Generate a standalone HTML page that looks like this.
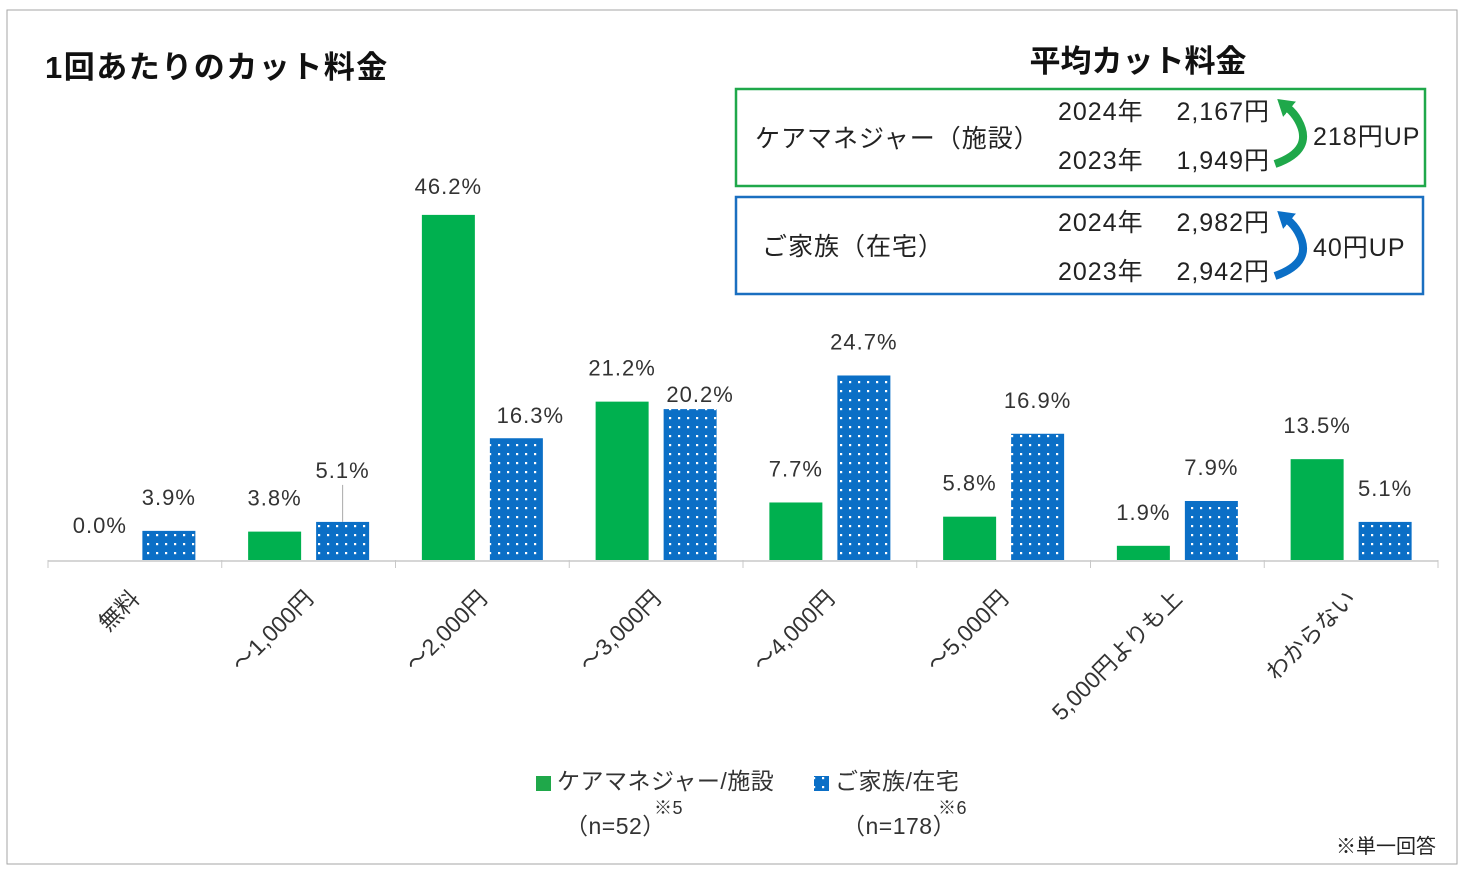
<!DOCTYPE html>
<html><head><meta charset="utf-8"><style>
body{margin:0;background:#fff;font-family:"Liberation Sans","Noto Sans CJK JP",sans-serif}
svg text{font-family:"Liberation Sans","Noto Sans CJK JP",sans-serif}
</style></head><body>
<svg id="c" width="1470" height="876" xmlns="http://www.w3.org/2000/svg">
<defs><pattern id="dots" width="9" height="9" patternUnits="userSpaceOnUse"><rect width="9" height="9" fill="#0b6fc6"/><rect x="3" y="3" width="2.2" height="2.2" fill="#fff"/></pattern>
<marker id="ag" markerUnits="userSpaceOnUse" markerWidth="16" markerHeight="20" refX="2" refY="10" orient="auto"><path d="M0,0 L16,10 L0,20z" fill="#1fa84a"/></marker>
<marker id="ab" markerUnits="userSpaceOnUse" markerWidth="16" markerHeight="20" refX="2" refY="10" orient="auto"><path d="M0,0 L16,10 L0,20z" fill="#0b6fc6"/></marker></defs>
<rect x="7" y="10" width="1450" height="854" fill="#fff" stroke="#a6a6a6"/>
<text x="45" y="78" font-size="31" font-weight="bold" fill="#111" letter-spacing="1.5">1回あたりのカット料金</text>
<text x="1138" y="72" font-size="31" font-weight="bold" fill="#111" text-anchor="middle">平均カット料金</text>
<g letter-spacing="1">
<rect x="736" y="89" width="689" height="97" fill="none" stroke="#1fa84a" stroke-width="2.5"/>
<text x="755" y="147" font-size="25" fill="#222">ケアマネジャー（施設）</text>
<text x="1058" y="120" font-size="25" fill="#222">2024年</text><text x="1270" y="120" font-size="25" fill="#222" text-anchor="end">2,167円</text>
<text x="1058" y="169" font-size="25" fill="#222">2023年</text><text x="1270" y="169" font-size="25" fill="#222" text-anchor="end">1,949円</text>
<path d="M1275,164 Q1315,150 1298,120 Q1294,113 1288,108" fill="none" stroke="#1fa84a" stroke-width="8" marker-end="url(#ag)"/>
<text x="1313" y="145" font-size="25" fill="#222">218円UP</text></g>
<g letter-spacing="1">
<rect x="736" y="197" width="687" height="97" fill="none" stroke="#1a6fc0" stroke-width="2.5"/>
<text x="762" y="255" font-size="25" fill="#222">ご家族（在宅）</text>
<text x="1058" y="231" font-size="25" fill="#222">2024年</text><text x="1270" y="231" font-size="25" fill="#222" text-anchor="end">2,982円</text>
<text x="1058" y="280" font-size="25" fill="#222">2023年</text><text x="1270" y="280" font-size="25" fill="#222" text-anchor="end">2,942円</text>
<path d="M1275,276 Q1315,262 1298,232 Q1294,225 1288,220" fill="none" stroke="#0b6fc6" stroke-width="8" marker-end="url(#ab)"/>
<text x="1313" y="256" font-size="25" fill="#222">40円UP</text></g>
<g id="plot"></g>
<g letter-spacing="0.5">
<rect x="536" y="776" width="15" height="15" fill="#1fa84a"/>
<text x="557" y="789" font-size="23" fill="#333">ケアマネジャー/施設</text>
<text x="565" y="834" font-size="23" fill="#333">（n=52）</text><text x="654" y="814" font-size="18" fill="#333">※5</text>
<rect x="814" y="776" width="15" height="15" fill="url(#dots)"/>
<text x="835" y="789" font-size="23" fill="#333">ご家族/在宅</text>
<text x="842" y="834" font-size="23" fill="#333">（n=178）</text><text x="938" y="814" font-size="18" fill="#333">※6</text>
</g>
<text x="1436" y="853" font-size="20" fill="#222" text-anchor="end">※単一回答</text>
</svg>
<script>
const categories=["無料","～1,000円","～2,000円","～3,000円","～4,000円","～5,000円","5,000円よりも上","わからない"];
const careValues=[0.0,3.8,46.2,21.2,7.7,5.8,1.9,13.5];
const familyValues=[3.9,5.1,16.3,20.2,24.7,16.9,7.9,5.1];
const NS="http://www.w3.org/2000/svg";
const g=document.getElementById('plot');
const x0=48,x1=1438,base=560,pxPer=7.47;
const bw=(x1-x0)/categories.length;
const y=v=>base-v*pxPer;
const cx=i=>x0+bw*(i+0.5);
function el(t,a){const e=document.createElementNS(NS,t);for(const k in a)e.setAttribute(k,a[k]);g.appendChild(e);return e;}
function label(text,xx,yy,name){const t=el('text',{x:xx,y:yy,'font-size':22,fill:'#333','text-anchor':'middle','letter-spacing':1});t.textContent=text;

}
const axis=el('line',{x1:x0,y1:base+1,x2:x1,y2:base+1,stroke:'#c8c8c8','stroke-width':1.5});


for(let i=0;i<=categories.length;i++){el('line',{x1:x0+bw*i,y1:base,x2:x0+bw*i,y2:base+8,stroke:'#c8c8c8'});}
categories.forEach((c,i)=>{
 const gc=careValues[i],fv=familyValues[i];
 const r1=el('rect',{x:cx(i)-34-26.5,y:y(gc),width:53,height:gc*pxPer,fill:'#00b04f'});
 
 
 const r2=el('rect',{x:cx(i)+34-26.5,y:y(fv),width:53,height:fv*pxPer,fill:'url(#dots)'});
 
 
 let gx=cx(i)-34,gy=y(gc)-26;
 if(i===0){gx-=1;gy=y(gc)-27;}
 if(i===2)gy+=5;
 label(gc.toFixed(1)+'%',gx,gy,'value-caremanager-'+i);
 let fx=cx(i)+34,fy=y(fv)-26;
 if(i===1){fy=y(fv)-44;el('line',{x1:fx,y1:fy+7,x2:fx,y2:y(fv),stroke:'#aaa'});}
 if(i===2){fx+=14;fy=y(fv)-15;}
 if(i===3){fx+=10;fy=y(fv)-7;}
 label(fv.toFixed(1)+'%',fx,fy,'value-family-'+i);
 const t=el('text',{x:cx(i)+6,y:base+40,'font-size':23,fill:'#333','text-anchor':'end',transform:`rotate(-45 ${cx(i)+6} ${base+40})`});
 t.textContent=c;
 
 
});
</script>
</body></html>
